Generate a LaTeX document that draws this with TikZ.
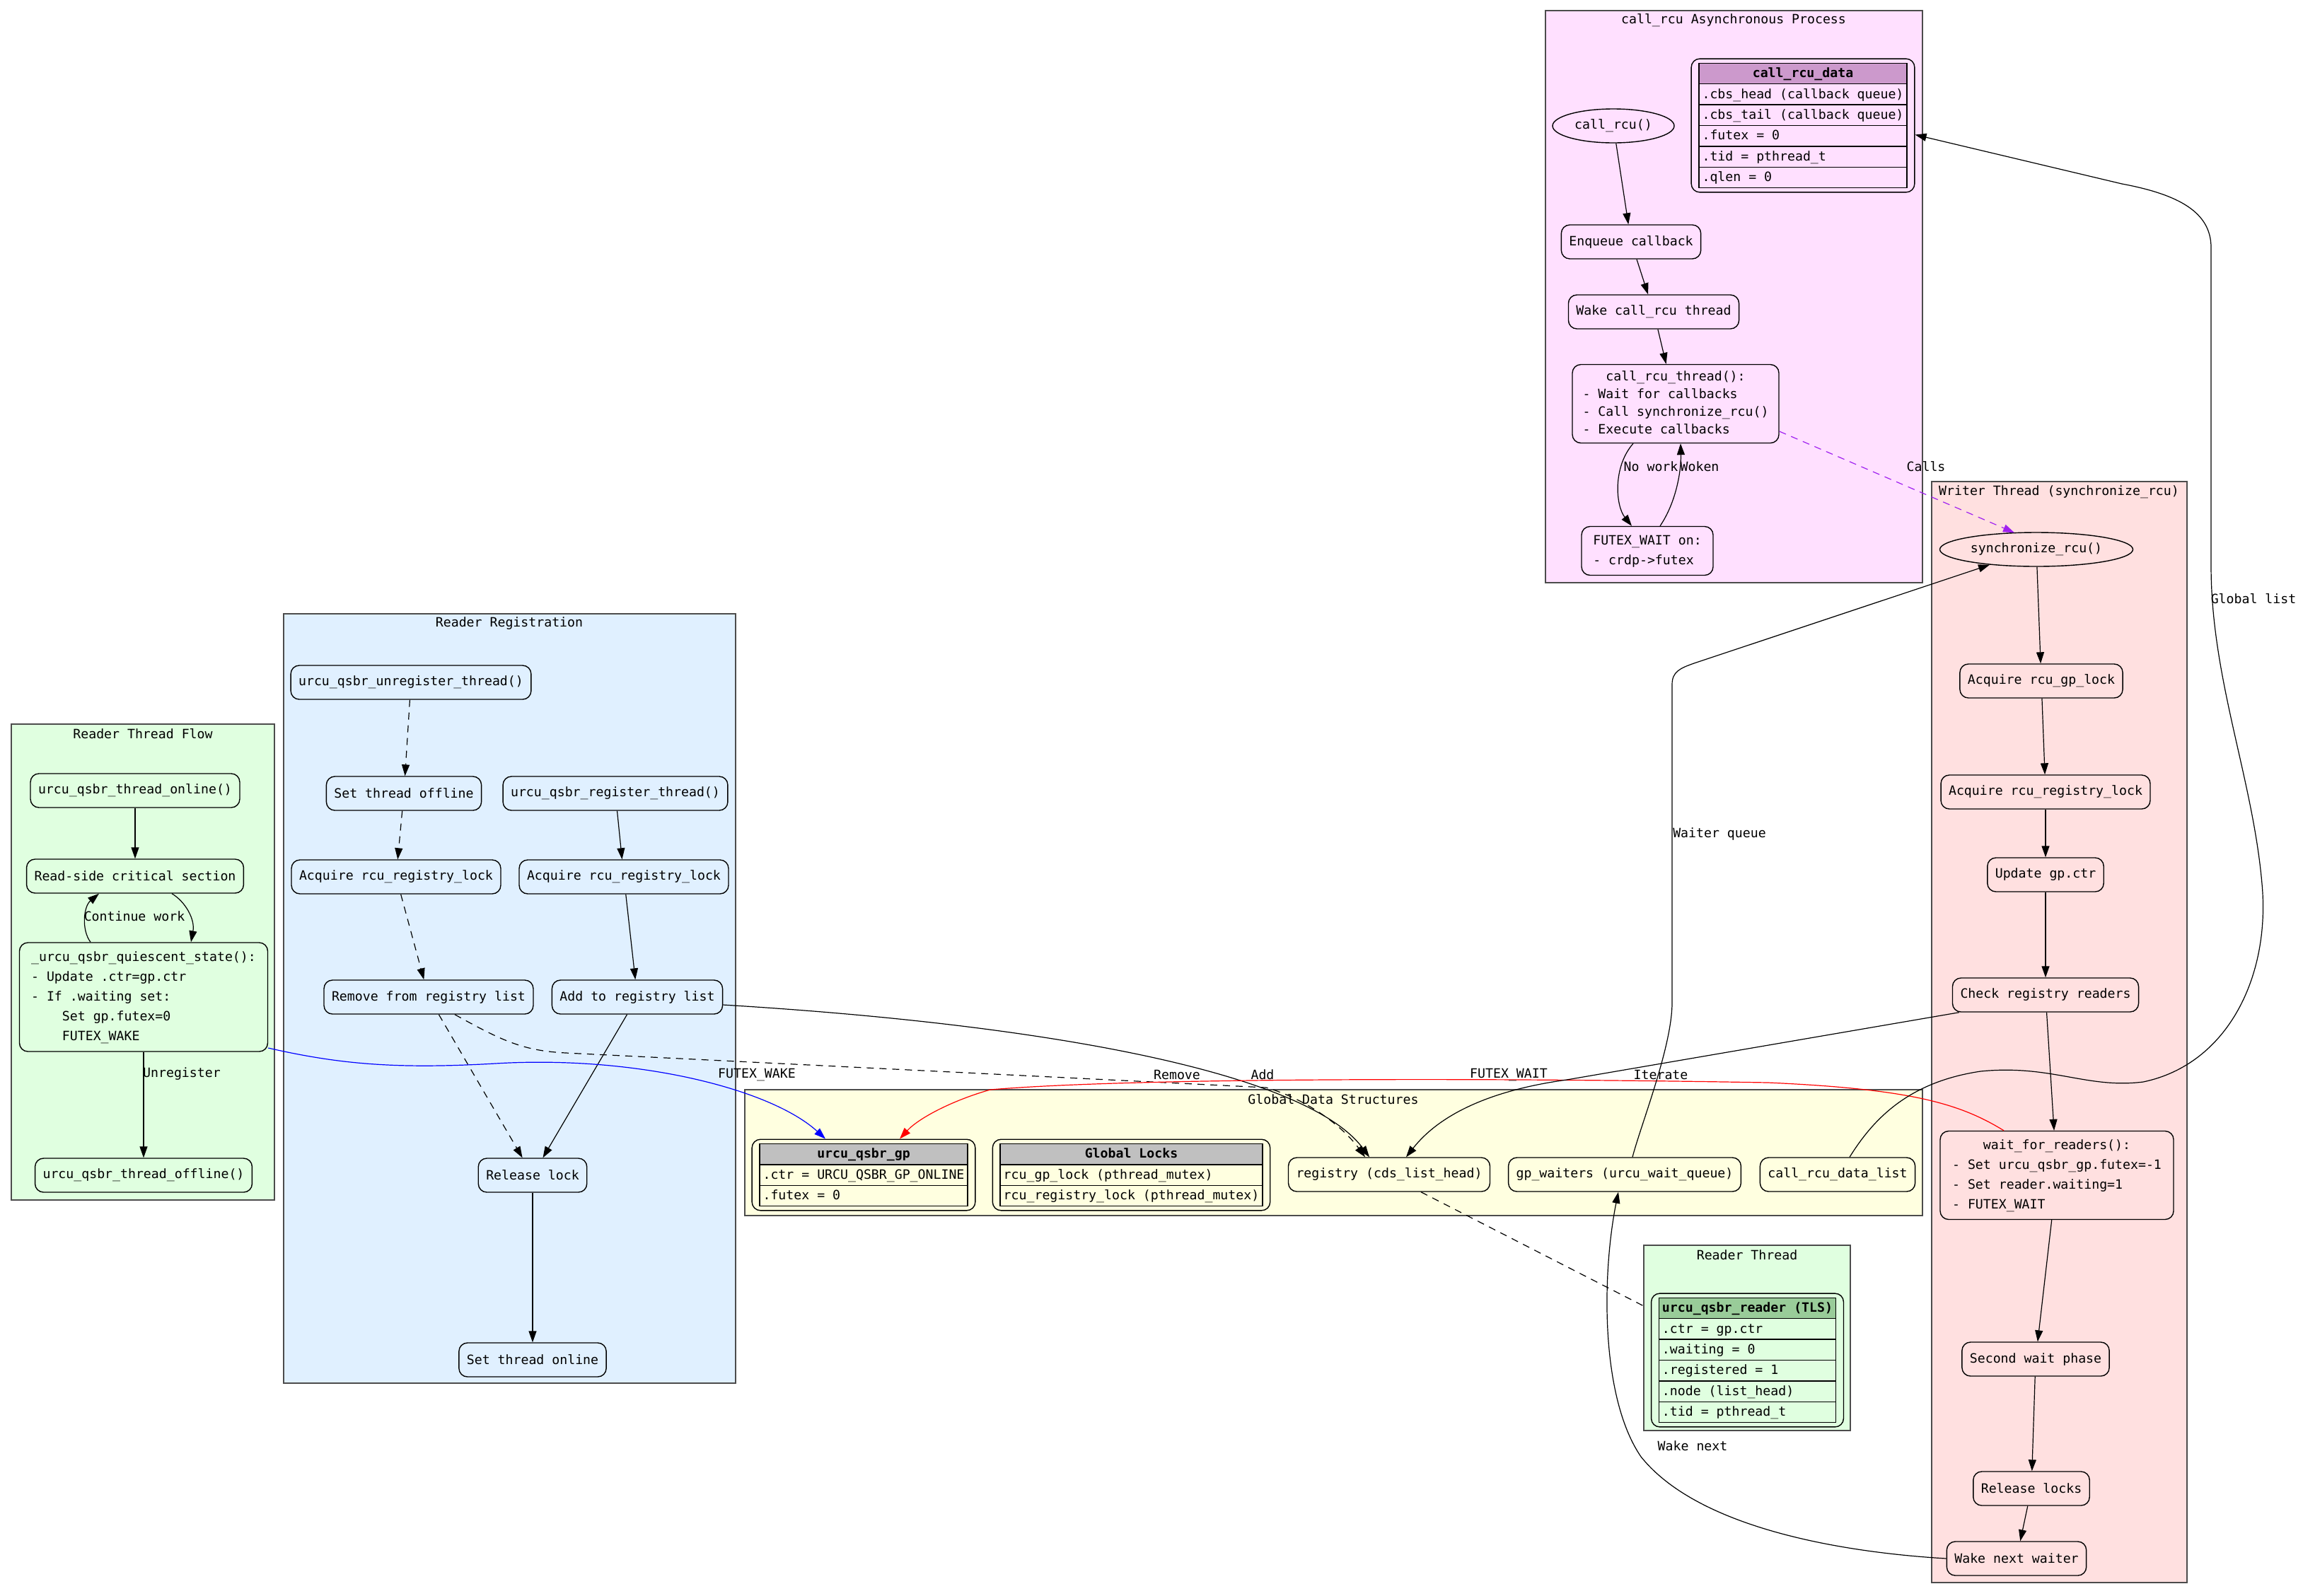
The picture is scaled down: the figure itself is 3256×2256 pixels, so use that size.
\documentclass[tikz,border=0pt]{standalone}
\usepackage{fontspec}
\usepackage{colortbl}
\newfontfamily\mono{DejaVu Sans Mono}
\newcommand{\codefont}{\mono\fontsize{9.1}{14}\selectfont}
\newcommand{\rechd}[2]{\multicolumn{1}{|>{\columncolor{#1}}c|}{\textbf{#2}}}
\newcommand{\lines}[1]{\begin{tabular}{@{}l@{}}#1\end{tabular}}
\newcommand{\ctr}[1]{\multicolumn{1}{@{}c@{}}{#1}}
\setlength{\arrayrulewidth}{0.7pt}
\setlength{\tabcolsep}{2pt}
\definecolor{asyncbg}{HTML}{FFE0FF}
\definecolor{writerbg}{HTML}{FFE0E0}
\definecolor{regbg}{HTML}{E0F0FF}
\definecolor{readerbg}{HTML}{E0FFE0}
\definecolor{globalbg}{HTML}{FFFFE0}
\definecolor{plumhd}{HTML}{CC99CC}
\definecolor{grayhd}{HTML}{C0C0C0}
\definecolor{greenhd}{HTML}{99CC99}
\definecolor{callpurple}{HTML}{A020F0}
\usetikzlibrary{arrows.meta, calc, shapes.geometric}

\begin{document}
\begin{tikzpicture}[x=0.5pt, y=-0.5pt,
  box/.style={draw, rounded corners=6pt, font=\codefont, inner xsep=5.5pt, inner ysep=0pt, minimum height=24pt, line width=0.7pt},
  oval/.style={draw, ellipse, font=\codefont, inner sep=0pt, minimum height=24pt, line width=0.7pt},
  rec/.style={draw, rounded corners=6pt, font=\codefont, inner xsep=5pt, inner ysep=2.75pt, line width=0.7pt},
  clus/.style={draw=black!70, line width=0.9pt},
  ctitle/.style={font=\codefont, inner sep=0pt},
  elabel/.style={font=\codefont, inner sep=0pt},
  flow/.style={-{Triangle[length=8pt, width=5.5pt]}, line width=0.6pt},
  calls/.style={flow, callpurple, dash pattern=on 5pt off 4pt}]
  \useasboundingbox (0,0) rectangle (3256,2256);

  % Clusters
  \draw[clus, fill=asyncbg] (2185,15) rectangle (2718,824);
  \draw[clus, fill=writerbg] (2731,681) rectangle (3092,2238);
  \draw[clus, fill=regbg] (401,868) rectangle (1040,1956);
  \draw[clus, fill=readerbg] (16,1024) rectangle (388,1697);
  \draw[clus, fill=globalbg] (1053,1541) rectangle (2718,1719);
  \draw[clus, fill=readerbg] (2324,1761) rectangle (2616,2023);
  \node[ctitle] (tasync) at (2451,29) {call\_rcu Asynchronous Process};
  \node[ctitle] (twriter) at (2911,696) {Writer Thread (synchronize\_rcu)};
  \node[ctitle] (treg) at (720,882) {Reader Registration};
  \node[ctitle] (tflow) at (202,1038) {Reader Thread Flow};
  \node[ctitle] (tglobal) at (1885,1555) {Global Data Structures};
  \node[ctitle] (ttls) at (2470,1775) {Reader Thread};

  % call_rcu side
  \node[oval, fill=asyncbg, minimum width=86pt] (crcall) at (2281,178) {call\_rcu()};
  \node[rec, fill=asyncbg] (crdata) at (2549,177.5) {\begin{tabular}{|l|}\hline
    \rechd{plumhd}{call\_rcu\_data}\\\hline
    .cbs\_head (callback queue)\\\hline
    .cbs\_tail (callback queue)\\\hline
    .futex = 0\\\hline
    .tid = pthread\_t\\\hline
    .qlen = 0\\\hline\end{tabular}};
  \node[box, fill=asyncbg] (crenq) at (2306,342) {Enqueue callback};
  \node[box, fill=asyncbg] (crwake) at (2338,441) {Wake call\_rcu thread};
  \node[box, fill=asyncbg, minimum width=146pt, minimum height=55.5pt,
    font=\mono\fontsize{9.1}{12.6}\selectfont] (crthr) at (2369,571)
    {\lines{\ctr{call\_rcu\_thread():}\\- Wait for callbacks\\- Call synchronize\_rcu()\\- Execute callbacks}};
  \node[box, fill=asyncbg, minimum width=93pt, minimum height=34.5pt] (crwait) at (2329,779)
    {\lines{FUTEX\_WAIT on:\\- crdp->futex}};

  % Writer thread
  \node[oval, fill=writerbg, minimum width=136.5pt] (sync) at (2879,777) {synchronize\_rcu()};
  \node[box, fill=writerbg] (gplock) at (2886,963) {Acquire rcu\_gp\_lock};
  \node[box, fill=writerbg] (reglock) at (2892,1120) {Acquire rcu\_registry\_lock};
  \node[box, fill=writerbg] (upd) at (2892,1237) {Update gp.ctr};
  \node[box, fill=writerbg] (chk) at (2892,1407) {Check registry readers};
  \node[box, fill=writerbg, minimum width=165pt, minimum height=62.5pt] (wfr) at (2908,1662)
    {\lines{\ctr{wait\_for\_readers():}\\- Set urcu\_qsbr\_gp.futex=-1\\- Set reader.waiting=1\\- FUTEX\_WAIT}};
  \node[box, fill=writerbg] (second) at (2878,1922) {Second wait phase};
  \node[box, fill=writerbg] (rel) at (2872,2105) {Release locks};
  \node[box, fill=writerbg] (wnext) at (2851,2204) {Wake next waiter};

  % Registration
  \node[box, fill=regbg] (unreg) at (581,965) {urcu\_qsbr\_unregister\_thread()};
  \node[box, fill=regbg] (soff) at (571,1122) {Set thread offline};
  \node[box, fill=regbg] (reg) at (870,1122) {urcu\_qsbr\_register\_thread()};
  \node[box, fill=regbg] (acqL) at (560,1240) {Acquire rcu\_registry\_lock};
  \node[box, fill=regbg] (acqR) at (882,1240) {Acquire rcu\_registry\_lock};
  \node[box, fill=regbg] (rem) at (606,1410) {Remove from registry list};
  \node[box, fill=regbg] (add) at (901,1410) {Add to registry list};
  \node[box, fill=regbg] (rlock) at (753,1662) {Release lock};
  \node[box, fill=regbg] (son) at (753,1923) {Set thread online};

  % Reader flow
  \node[box, fill=readerbg] (online) at (191,1118) {urcu\_qsbr\_thread\_online()};
  \node[box, fill=readerbg] (rscs) at (191,1239) {Read-side critical section};
  \node[box, fill=readerbg, minimum width=175.5pt, minimum height=77pt] (qs) at (203,1410)
    {\lines{\_urcu\_qsbr\_quiescent\_state():\\- Update .ctr=gp.ctr\\- If .waiting set:\\\phantom{xxxx}Set gp.futex=0\\\phantom{xxxx}FUTEX\_WAKE}};
  \node[box, fill=readerbg] (offline) at (203,1662) {urcu\_qsbr\_thread\_offline()};

  % Global data
  \node[rec, fill=globalbg] (gp) at (1221,1661.5) {\begin{tabular}{|l|}\hline
    \rechd{grayhd}{urcu\_qsbr\_gp}\\\hline
    .ctr = URCU\_QSBR\_GP\_ONLINE\\\hline
    .futex = 0\\\hline\end{tabular}};
  \node[rec, fill=globalbg] (locks) at (1599.5,1661.5) {\begin{tabular}{|l|}\hline
    \rechd{grayhd}{Global Locks}\\\hline
    rcu\_gp\_lock (pthread\_mutex)\\\hline
    rcu\_registry\_lock (pthread\_mutex)\\\hline\end{tabular}};
  \node[box, fill=globalbg] (registry) at (1964,1661) {registry (cds\_list\_head)};
  \node[box, fill=globalbg] (waiters) at (2297,1661) {gp\_waiters (urcu\_wait\_queue)};
  \node[box, fill=globalbg] (crlist) at (2598,1661) {call\_rcu\_data\_list};

  % Reader TLS
  \node[rec, fill=readerbg] (tls) at (2470.5,1923.5) {\begin{tabular}{|l|}\hline
    \rechd{greenhd}{urcu\_qsbr\_reader (TLS)}\\\hline
    .ctr = gp.ctr\\\hline
    .waiting = 0\\\hline
    .registered = 1\\\hline
    .node (list\_head)\\\hline
    .tid = pthread\_t\\\hline\end{tabular}};
  \coordinate (tlsin) at (2324,1847);

  % Edges inside clusters
  \draw[flow] (crcall) -- (crenq);
  \draw[flow] (crenq) -- (crwake);
  \draw[flow] (crwake) -- (crthr);
  \draw[flow] ($(crthr.south)+(-60,0)$) .. controls (2280,660) and (2284,715) .. ($(crwait.north)+(-22,0)$);
  \draw[flow] ($(crwait.north)+(18,0)$) .. controls (2370,710) and (2377,665) .. ($(crthr.south)+(7,0)$);
  \draw[calls] ($(crthr.east)+(0,39)$) -- ($(sync.north)+(-31,1)$);

  \foreach \a/\b in {sync/gplock, gplock/reglock, reglock/upd, upd/chk, chk/wfr, wfr/second, second/rel, rel/wnext}
    \draw[flow] (\a) -- (\b);

  \foreach \a/\b in {unreg/soff, soff/acqL, acqL/rem, rem/rlock}
    \draw[flow, dash pattern=on 5pt off 4pt] (\a) -- (\b);
  \foreach \a/\b in {reg/acqR, acqR/add, add/rlock, rlock/son}
    \draw[flow] (\a) -- (\b);

  \draw[flow] (online) -- (rscs);
  \draw[flow] ($(rscs.south)+(52,0)$) .. controls (262,1275) and (276,1300) .. ($(qs.north)+(67,0)$);
  \draw[flow] ($(qs.north)+(-75,0)$) .. controls (115,1315) and (118,1282) .. ($(rscs.south)+(-51,0)$);
  \draw[flow] (qs) -- (offline);

  % Edges across clusters
  \draw[flow, blue] ($(qs.east)+(0,72)$) .. controls (480,1505) and (560,1512) .. (700,1504)
    .. controls (900,1492) and (1090,1540) .. ($(gp.north)+(-54,0)$);
  \draw[flow, dash pattern=on 5pt off 4pt] ($(rem.south)+(37,0)$) .. controls (710,1472) and (740,1486) .. (800,1489)
    -- (1790,1538) .. controls (1850,1555) and (1900,1595) .. ($(registry.north)+(-34,0)$);
  \draw[flow] ($(add.east)+(0,11)$) .. controls (1500,1450) and (1850,1520) .. ($(registry.north)+(-28,0)$);
  \draw[flow, red] ($(wfr.north)+(-75,0)$) .. controls (2770,1560) and (2700,1540) .. (2500,1531)
    .. controls (2100,1524) and (1600,1524) .. (1400,1541)
    .. controls (1350,1555) and (1300,1580) .. ($(gp.north)+(51,0)$);
  \draw[flow] ($(chk.south west)+(10,0)$) -- (2215,1527) .. controls (2120,1540) and (2040,1570) .. ($(registry.north)+(24,0)$);
  \draw[flow] ($(waiters.north)+(11,0)$) .. controls (2320,1590) and (2364,1480) .. (2364,1418)
    -- (2364,968) .. controls (2364,950) and (2375,945) .. (2395,938) -- ($(sync.south)+(-66,-3)$);
  \draw[flow] (wnext.west) .. controls (2600,2195) and (2400,2160) .. (2320,2060)
    .. controls (2262,1975) and (2265,1800) .. ($(waiters.south)+(-9,0)$);
  \draw[flow] ($(crlist.north)+(17,0)$) .. controls (2650,1580) and (2700,1530) .. (2800,1515)
    .. controls (2900,1505) and (2950,1540) .. (3030,1530)
    .. controls (3150,1505) and (3210,1380) .. (3198,1250)
    .. controls (3185,1100) and (3126,960) .. (3126,800) -- (3126,350)
    .. controls (3126,300) and (3080,275) .. (3000,260) -- ($(crdata.east)+(0,13)$);
  \draw[line width=0.6pt, dash pattern=on 5pt off 4pt] ($(registry.south)+(45,0)$) -- (tlsin);

  % Edge labels
  \node[elabel] (lnowork) at (2334,660) {No work};
  \node[elabel] (lwoken) at (2403,660) {Woken};
  \node[elabel] (lcalls) at (2723,660) {Calls};
  \node[elabel] (lqueue) at (2431,1179) {Waiter queue};
  \node[elabel] (lwnext) at (2393,2045) {Wake next};
  \node[elabel] (lglobal) at (3186,847) {Global list};
  \node[elabel] (lcont) at (190,1296) {Continue work};
  \node[elabel] (lunreg) at (257,1519) {Unregister};
  \node[elabel] (lfwake) at (1070,1520) {FUTEX\_WAKE};
  \node[elabel] (lremove) at (1664,1520) {Remove};
  \node[elabel] (ladd) at (1785,1520) {Add};
  \node[elabel] (lfwait) at (2133,1520) {FUTEX\_WAIT};
  \node[elabel] (liter) at (2348,1520) {Iterate};
\end{tikzpicture}
\end{document}
